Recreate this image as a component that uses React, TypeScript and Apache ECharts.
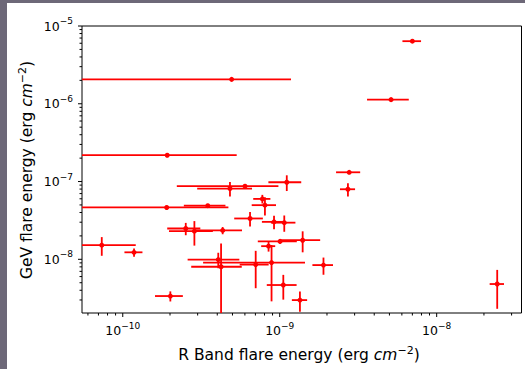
import React, { useEffect, useRef } from 'react';
import * as echarts from 'echarts';

// R band flare energy (erg cm^-2) and symmetric error
const rBand = [
  4.94e-10, 1.92e-10, 7.0e-9, 5.12e-9, 2.77e-9, 2.72e-9, 2.43e-8, 1.90e-9, 1.40e-9, 1.005e-9,
  8.49e-10, 4.82e-10, 6.01e-10, 1.109e-9, 7.75e-10, 8.05e-10, 1.905e-10, 3.48e-10, 6.47e-10, 9.2e-10,
  1.069e-9, 2.52e-10, 2.86e-10, 4.33e-10, 7.35e-11, 1.18e-10, 4.06e-10, 4.23e-10, 7.03e-10, 8.87e-10,
  1.054e-9, 2.01e-10, 1.345e-9,
];
const rBandErr = [
  6.86e-10, 3.40e-10, 0.95e-9, 1.52e-9, 0.485e-9, 0.30e-9, 0.255e-8, 0.285e-9, 0.41e-9, 0.28e-9,
  0.87e-10, 1.84e-10, 3.8e-10, 0.262e-9, 0.97e-10, 1.42e-10, 2.805e-10, 1.03e-10, 1.34e-10, 1.5e-10,
  0.19e-9, 0.6e-10, 0.89e-10, 1.42e-10, 4.75e-11, 0.155e-10, 1.47e-10, 1.5e-10, 1.47e-10, 5.62e-10,
  0.227e-9, 0.405e-10, 0.15e-9,
];
// GeV flare energy (erg cm^-2) and symmetric error
const gev = [
  2.06e-6, 2.18e-7, 6.38e-6, 1.13e-6, 1.315e-7, 7.96e-8, 4.81e-9, 8.43e-9, 1.76e-8, 1.70e-8,
  1.476e-8, 8.13e-8, 8.71e-8, 9.79e-8, 5.98e-8, 4.97e-8, 4.64e-8, 4.89e-8, 3.35e-8, 3.03e-8,
  2.96e-8, 2.49e-8, 2.30e-8, 2.35e-8, 1.52e-8, 1.23e-8, 9.91e-9, 8.02e-9, 8.55e-9, 9.08e-9,
  4.67e-9, 3.37e-9, 2.99e-9,
];
const gevErr = [
  0.05e-6, 0.05e-7, 0.15e-6, 0.03e-6, 0.04e-7, 1.54e-8, 2.5e-9, 2.1e-9, 0.53e-8, 0.12e-8,
  0.22e-8, 1.7e-8, 0.2e-8, 2.24e-8, 0.76e-8, 1.3e-8, 0.1e-8, 0.1e-8, 0.7e-8, 0.6e-8,
  0.7e-8, 0.45e-8, 0.8e-8, 0.25e-8, 0.41e-8, 0.15e-8, 2.23e-9, 7.98e-9, 4.3e-9, 6.2e-9,
  1.64e-9, 0.5e-9, 0.87e-9,
];

const xMinorTicks = [
  6e-11, 7e-11, 8e-11, 9e-11,
  2e-10, 3e-10, 4e-10, 5e-10, 6e-10, 7e-10, 8e-10, 9e-10,
  2e-9, 3e-9, 4e-9, 5e-9, 6e-9, 7e-9, 8e-9, 9e-9,
  2e-8, 3e-8,
];
const xMajorTicks = [1e-10, 1e-9, 1e-8];
const yMinorTicks = [
  3e-9, 4e-9, 5e-9, 6e-9, 7e-9, 8e-9, 9e-9,
  2e-8, 3e-8, 4e-8, 5e-8, 6e-8, 7e-8, 8e-8, 9e-8,
  2e-7, 3e-7, 4e-7, 5e-7, 6e-7, 7e-7, 8e-7, 9e-7,
  2e-6, 3e-6, 4e-6, 5e-6, 6e-6, 7e-6, 8e-6, 9e-6,
];
const yMajorTicks = [1e-8, 1e-7, 1e-6, 1e-5];

const X_MIN = 5.5e-11;
const X_MAX = 3.47e-8;
const Y_MIN = 2.04e-9;
const Y_MAX = 1e-5;

const FONT = 'DejaVu Sans';
const RED = '#ff0000';

function powLabel(v: number): string {
  const e = Math.log10(v);
  const r = Math.round(e);
  if (Math.abs(e - r) > 1e-6) return '';
  return `{b|10}{s|${r < 0 ? '\u2212' : ''}${Math.abs(r)}}`;
}

const labelRich = {
  b: { fontFamily: FONT, fontSize: 12.5, color: '#000', lineHeight: 19 },
  s: { fontFamily: FONT, fontSize: 9, color: '#000', verticalAlign: 'top', lineHeight: 10 },
};

function tickSeries(vals: number[], axis: 'x' | 'y', len: number) {
  return {
    type: 'custom',
    silent: true,
    clip: false,
    z: 5,
    data: vals.map((v) => (axis === 'x' ? [v, Y_MIN] : [X_MIN, v])),
    encode: { x: 0, y: 1 },
    renderItem: (params: any, api: any) => {
      const cs = params.coordSys;
      const p = api.coord([api.value(0), api.value(1)]);
      if (axis === 'x') {
        const yb = cs.y + cs.height;
        return {
          type: 'line',
          shape: { x1: p[0], y1: yb, x2: p[0], y2: yb + len },
          style: { stroke: '#000', lineWidth: 1 },
        };
      }
      return {
        type: 'line',
        shape: { x1: cs.x - len, y1: p[1], x2: cs.x, y2: p[1] },
        style: { stroke: '#000', lineWidth: 1 },
      };
    },
  };
}

const titleRich = {
  t: { fontFamily: FONT, fontSize: 15.5, fill: '#000', lineHeight: 20 },
  i: { fontFamily: FONT, fontSize: 15.5, fontStyle: 'italic', fill: '#000', lineHeight: 20 },
  s: { fontFamily: FONT, fontSize: 11, fill: '#000', verticalAlign: 'top', lineHeight: 12 },
};

export default function App() {
  const ref = useRef<HTMLDivElement>(null);

  useEffect(() => {
    if (!ref.current) return;
    const chart = echarts.init(ref.current, undefined, { renderer: 'svg' });
    const data = rBand.map((x, i) => [x, gev[i], rBandErr[i], gevErr[i]]);

    chart.setOption({
      animation: false,
      backgroundColor: '#ffffff',
      textStyle: { fontFamily: FONT },
      grid: {
        left: 82,
        top: 26,
        width: 439.5,
        height: 287,
        show: true,
        borderColor: '#000',
        borderWidth: 1,
        backgroundColor: 'transparent',
        outerBoundsMode: 'none',
      },
      xAxis: {
        type: 'log',
        logBase: 10,
        min: X_MIN,
        max: X_MAX,
        axisLine: { show: false },
        axisTick: { show: false },
        splitLine: { show: false },
        minorTick: { show: false },
        axisLabel: {
          margin: 8,
          showMinLabel: false,
          showMaxLabel: false,
          formatter: (v: number) => powLabel(v),
          rich: labelRich,
        },
      },
      yAxis: {
        type: 'log',
        logBase: 10,
        min: Y_MIN,
        max: Y_MAX,
        axisLine: { show: false },
        axisTick: { show: false },
        splitLine: { show: false },
        minorTick: { show: false },
        axisLabel: {
          margin: 9,
          showMinLabel: false,
          showMaxLabel: true,
          formatter: (v: number) => powLabel(v),
          rich: labelRich,
        },
      },
      graphic: [
        { type: 'rect', shape: { x: 0, y: 0, width: 7, height: 369 }, style: { fill: '#6d6878' }, silent: true },
        { type: 'rect', shape: { x: 0, y: 0, width: 525, height: 3 }, style: { fill: '#6d6878' }, silent: true },
        {
          type: 'text',
          x: 299,
          y: 355,
          silent: true,
          style: {
            text: '{t|R Band flare energy (erg }{i|cm}{s|\u22122}{t|)}',
            align: 'center',
            verticalAlign: 'middle',
            rich: titleRich,
          },
        },
        {
          type: 'text',
          x: 27,
          y: 170,
          rotation: Math.PI / 2,
          silent: true,
          style: {
            text: '{t|GeV flare energy (erg }{i|cm}{s|\u22122}{t|)}',
            align: 'center',
            verticalAlign: 'middle',
            rich: titleRich,
          },
        },
      ],
      series: [
        {
          type: 'custom',
          clip: true,
          silent: true,
          z: 3,
          data,
          encode: { x: 0, y: 1 },
          renderItem: (params: any, api: any) => {
            const x = api.value(0);
            const y = api.value(1);
            const xe = api.value(2);
            const ye = api.value(3);
            const xl = x - xe > 0 ? x - xe : X_MIN / 10;
            const yl = y - ye > 0 ? y - ye : Y_MIN / 10;
            const c = api.coord([x, y]);
            const pl = api.coord([xl, y]);
            const pr = api.coord([x + xe, y]);
            const pb = api.coord([x, yl]);
            const pt = api.coord([x, y + ye]);
            const st = { stroke: RED, lineWidth: 1.8 };
            return {
              type: 'group',
              children: [
                { type: 'line', shape: { x1: pl[0], y1: c[1], x2: pr[0], y2: c[1] }, style: st },
                { type: 'line', shape: { x1: c[0], y1: pt[1], x2: c[0], y2: pb[1] }, style: st },
                { type: 'circle', shape: { cx: c[0], cy: c[1], r: 2.5 }, style: { fill: RED } },
              ],
            };
          },
        },
        tickSeries(xMajorTicks, 'x', 4),
        tickSeries(xMinorTicks, 'x', 2.5),
        tickSeries(yMajorTicks, 'y', 4),
        tickSeries(yMinorTicks, 'y', 2.5),
      ],
    });

    return () => chart.dispose();
  }, []);

  return (
    <div
      ref={ref}
      style={{ position: 'absolute', left: 0, top: 0, width: 525, height: 369, background: '#fff' }}
    />
  );
}
